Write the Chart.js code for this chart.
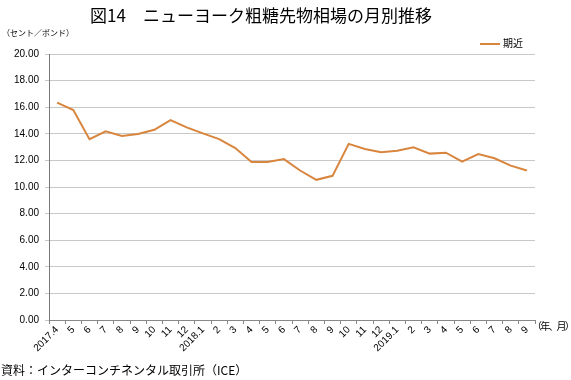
<!DOCTYPE html>
<html>
<head>
<meta charset="utf-8">
<script src="https://cdn.jsdelivr.net/npm/chart.js@4"></script>
<style>
  body { margin: 0; background: #fff; }
  #wrap { position: relative; width: 571px; height: 380px; font-family: "Noto Sans CJK JP", sans-serif; color: #000; }
  canvas { position: absolute; left: 0; top: 0; }
  .txt { position: absolute; white-space: nowrap; }
  #title { left: 0; width: 522px; top: 2px; text-align: center; font-size: 17px; }
  #unit { left: 2px; top: 27px; font-size: 8px; }
  #legend { left: 480px; top: 35px; font-size: 10px; }
  #legend span { display: inline-block; width: 20px; height: 2px; background: #D8853E; vertical-align: middle; margin-right: 3px; }
  #xunit { left: 532px; top: 318px; font-size: 10px; letter-spacing: -1.8px; }
  #source { left: 1px; top: 361px; font-size: 12px; }
</style>
</head>
<body>
<div id="wrap">
  <canvas id="chart" width="571" height="380"></canvas>
  <div class="txt" id="title">図14　ニューヨーク粗糖先物相場の月別推移</div>
  <div class="txt" id="unit">（セント／ポンド）</div>
  <div class="txt" id="legend"><span></span>期近</div>
  <div class="txt" id="xunit">（年、月）</div>
  <div class="txt" id="source">資料：インターコンチネンタル取引所（ICE）</div>
</div>
<script>
// month labels, 2017.4 - 2019.9
let months = ['2017.4', '5', '6', '7', '8', '9', '10', '11', '12',
  '2018.1', '2', '3', '4', '5', '6', '7', '8', '9', '10', '11', '12',
  '2019.1', '2', '3', '4', '5', '6', '7', '8', '9'];

// nearby futures, cents per pound
let nearby = [16.35, 15.78, 13.60, 14.18, 13.83, 13.98, 14.30, 15.03, 14.48,
  14.03, 13.60, 12.93, 11.88, 11.88, 12.10, 11.24, 10.54, 10.84, 13.24, 12.86, 12.61,
  12.73, 12.98, 12.51, 12.58, 11.91, 12.48, 12.16, 11.61, 11.24];

let yMin = 0;
let yMax = 20;
let yStep = 2;

const ctx = document.getElementById('chart').getContext('2d');
const chart = new Chart(ctx, {
  type: 'line',
  data: {
    labels: months,
    datasets: [{
      label: '期近',
      data: nearby,
      borderColor: '#D8853E',
      borderWidth: 2,
      pointRadius: 0,
      tension: 0,
      fill: false
    }]
  },
  options: {
    responsive: false,
    animation: false,
    layout: { padding: { left: 0, right: 36, top: 54, bottom: 0 } },
    plugins: { legend: { display: false }, tooltip: { enabled: false } },
    scales: {
      x: {
        type: 'category',
        offset: true,
        grid: { drawOnChartArea: false, drawTicks: true, tickLength: 4, offset: true, color: '#888' },
        border: { color: '#888' },
        ticks: {
          color: '#000',
          font: { family: 'Liberation Sans', size: 10 },
          minRotation: 45,
          maxRotation: 45,
          autoSkip: false,
          padding: 0
        },
        afterFit: function (scale) { scale.height = 60; }
      },
      y: {
        min: yMin,
        max: yMax,
        grid: { color: '#C8C8C8', drawTicks: true, tickLength: 4 },
        border: { color: '#777' },
        ticks: {
          stepSize: yStep,
          color: '#000',
          font: { family: 'Liberation Sans', size: 10 },
          padding: 6,
          callback: function (v) { return v.toFixed(2); }
        },
        afterFit: function (scale) { scale.width = 49; }
      }
    }
  }
});
</script>
</body>
</html>
